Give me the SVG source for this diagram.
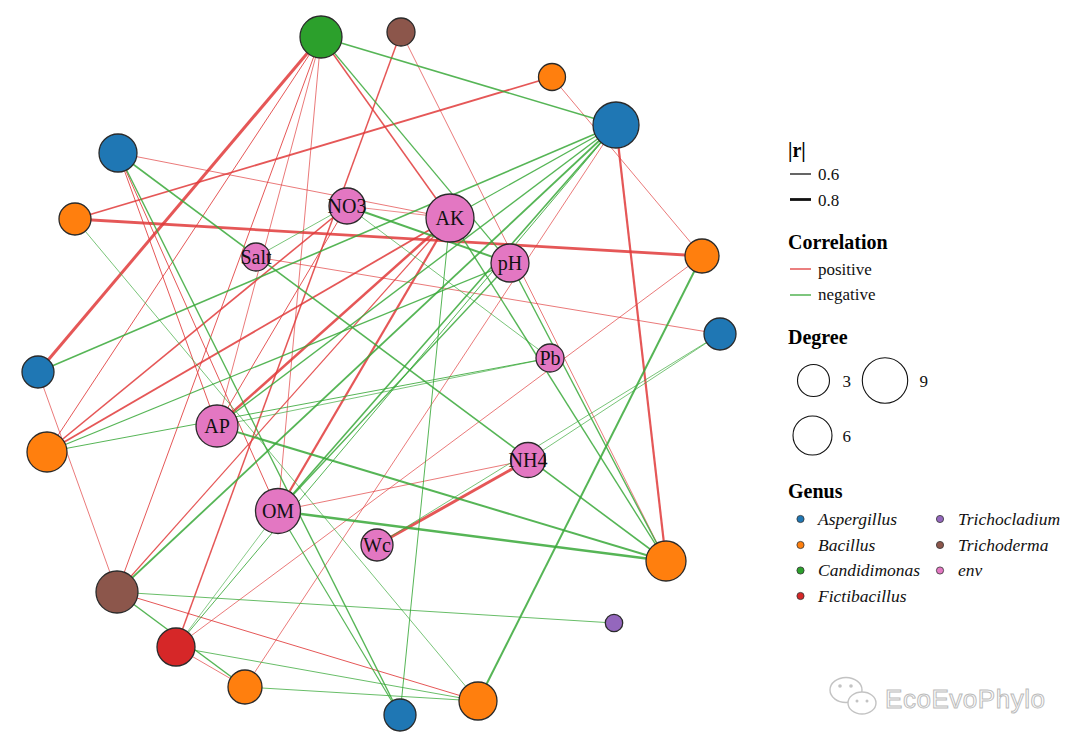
<svg xmlns="http://www.w3.org/2000/svg" width="1080" height="749" viewBox="0 0 1080 749">
<style>
.pos{stroke:#e03a3a;stroke-opacity:0.85;fill:none}
.neg{stroke:#38a838;stroke-opacity:0.85;fill:none}
.nd{stroke:#2a2a2a;stroke-width:1.3}
.lab{font-family:"Liberation Serif","Times New Roman",serif;font-size:20px;fill:#111;text-anchor:middle}
.lt{font-family:"Liberation Serif","Times New Roman",serif;font-size:17px;fill:#111}
.lh{font-family:"Liberation Serif","Times New Roman",serif;font-size:20px;font-weight:bold;fill:#000}
.gi{font-family:"Liberation Serif","Times New Roman",serif;font-size:17.5px;font-style:italic;fill:#111}
.asp{fill:#1f77b4}.bac{fill:#ff7f0e}.can{fill:#2ca02c}.fic{fill:#d62728}.tcl{fill:#9467bd}.tde{fill:#8c564b}.env{fill:#e377c2}
</style>
<rect width="1080" height="749" fill="#ffffff"/>
<g id="connectors">
<line class="pos" stroke-width="3" x1="321" y1="37" x2="38" y2="372"/>
<line class="pos" stroke-width="1" x1="321" y1="37" x2="47" y2="452"/>
<line class="pos" stroke-width="1" x1="321" y1="37" x2="117" y2="592"/>
<line class="pos" stroke-width="1.5" x1="321" y1="37" x2="450" y2="218"/>
<line class="pos" stroke-width="0.8" x1="321" y1="37" x2="217" y2="426"/>
<line class="pos" stroke-width="0.8" x1="321" y1="37" x2="278" y2="511"/>
<line class="pos" stroke-width="1.5" x1="176" y1="647" x2="401" y2="32"/>
<line class="pos" stroke-width="0.8" x1="401" y1="32" x2="666" y2="561"/>
<line class="pos" stroke-width="2.2" x1="616" y1="125" x2="666" y2="561"/>
<line class="pos" stroke-width="0.8" x1="616" y1="125" x2="245" y2="687"/>
<line class="pos" stroke-width="0.8" x1="552" y1="77" x2="702" y2="256"/>
<line class="pos" stroke-width="1.8" x1="75" y1="219" x2="552" y2="77"/>
<line class="pos" stroke-width="2.8" x1="75" y1="219" x2="702" y2="256"/>
<line class="pos" stroke-width="0.8" x1="702" y1="256" x2="176" y2="647"/>
<line class="pos" stroke-width="0.8" x1="38" y1="372" x2="117" y2="592"/>
<line class="pos" stroke-width="1" x1="118" y1="153" x2="217" y2="426"/>
<line class="pos" stroke-width="1" x1="118" y1="153" x2="278" y2="511"/>
<line class="pos" stroke-width="0.8" x1="118" y1="153" x2="450" y2="218"/>
<line class="pos" stroke-width="1.6" x1="47" y1="452" x2="347" y2="206"/>
<line class="pos" stroke-width="1.8" x1="47" y1="452" x2="450" y2="218"/>
<line class="pos" stroke-width="2.5" x1="217" y1="426" x2="450" y2="218"/>
<line class="pos" stroke-width="2.2" x1="278" y1="511" x2="450" y2="218"/>
<line class="pos" stroke-width="1.2" x1="117" y1="592" x2="450" y2="218"/>
<line class="pos" stroke-width="3" x1="528" y1="460" x2="377" y2="545"/>
<line class="pos" stroke-width="0.8" x1="256" y1="257" x2="720" y2="334"/>
<line class="pos" stroke-width="1" x1="117" y1="592" x2="478" y2="701"/>
<line class="pos" stroke-width="0.8" x1="176" y1="647" x2="245" y2="687"/>
<line class="pos" stroke-width="0.8" x1="278" y1="511" x2="528" y2="460"/>
<line class="pos" stroke-width="1" x1="347" y1="206" x2="217" y2="426"/>
<line class="pos" stroke-width="0.7" x1="347" y1="206" x2="450" y2="218"/>
<line class="neg" stroke-width="1.6" x1="321" y1="37" x2="616" y2="125"/>
<line class="neg" stroke-width="1.2" x1="321" y1="37" x2="510" y2="263"/>
<line class="neg" stroke-width="1.6" x1="616" y1="125" x2="38" y2="372"/>
<line class="neg" stroke-width="1.4" x1="616" y1="125" x2="217" y2="426"/>
<line class="neg" stroke-width="1.8" x1="616" y1="125" x2="117" y2="592"/>
<line class="neg" stroke-width="1.6" x1="616" y1="125" x2="278" y2="511"/>
<line class="neg" stroke-width="1.2" x1="616" y1="125" x2="450" y2="218"/>
<line class="neg" stroke-width="1" x1="616" y1="125" x2="176" y2="647"/>
<line class="neg" stroke-width="1.4" x1="118" y1="153" x2="400" y2="715"/>
<line class="neg" stroke-width="1.6" x1="118" y1="153" x2="666" y2="561"/>
<line class="neg" stroke-width="0.8" x1="75" y1="219" x2="478" y2="701"/>
<line class="neg" stroke-width="1.2" x1="47" y1="452" x2="510" y2="263"/>
<line class="neg" stroke-width="1" x1="47" y1="452" x2="550" y2="358"/>
<line class="neg" stroke-width="0.8" x1="217" y1="426" x2="550" y2="358"/>
<line class="neg" stroke-width="2" x1="217" y1="426" x2="666" y2="561"/>
<line class="neg" stroke-width="2.5" x1="278" y1="511" x2="666" y2="561"/>
<line class="neg" stroke-width="1.2" x1="278" y1="511" x2="400" y2="715"/>
<line class="neg" stroke-width="1.4" x1="278" y1="511" x2="510" y2="263"/>
<line class="neg" stroke-width="0.7" x1="176" y1="647" x2="278" y2="511"/>
<line class="neg" stroke-width="1" x1="450" y1="218" x2="400" y2="715"/>
<line class="neg" stroke-width="1.4" x1="450" y1="218" x2="666" y2="561"/>
<line class="neg" stroke-width="1.4" x1="510" y1="263" x2="666" y2="561"/>
<line class="neg" stroke-width="2" x1="347" y1="206" x2="510" y2="263"/>
<line class="neg" stroke-width="0.8" x1="347" y1="206" x2="256" y2="257"/>
<line class="neg" stroke-width="0.8" x1="347" y1="206" x2="550" y2="358"/>
<line class="neg" stroke-width="0.8" x1="720" y1="334" x2="528" y2="460"/>
<line class="neg" stroke-width="0.8" x1="720" y1="334" x2="377" y2="545"/>
<line class="neg" stroke-width="2" x1="702" y1="256" x2="478" y2="701"/>
<line class="neg" stroke-width="0.9" x1="117" y1="592" x2="614" y2="623"/>
<line class="neg" stroke-width="1.5" x1="117" y1="592" x2="245" y2="687"/>
<line class="neg" stroke-width="0.9" x1="176" y1="647" x2="478" y2="701"/>
<line class="neg" stroke-width="0.9" x1="245" y1="687" x2="478" y2="701"/>
</g>
<g id="n-candidimonas"><circle class="nd can" cx="321" cy="37" r="21"/></g>
<g id="n-trichoderma1"><circle class="nd tde" cx="401" cy="32" r="14"/></g>
<g id="n-bacillus1"><circle class="nd bac" cx="552" cy="77" r="13.5"/></g>
<g id="n-aspergillus1"><circle class="nd asp" cx="616" cy="125" r="23"/></g>
<g id="n-aspergillus2"><circle class="nd asp" cx="118" cy="153" r="19"/></g>
<g id="n-bacillus2"><circle class="nd bac" cx="75" cy="219" r="16"/></g>
<g id="n-NO3"><circle class="nd env" cx="347" cy="206" r="18"/><text class="lab" x="347" y="213">NO3</text></g>
<g id="n-AK"><circle class="nd env" cx="450" cy="218" r="24"/><text class="lab" x="450" y="225">AK</text></g>
<g id="n-Salt"><circle class="nd env" cx="256" cy="257" r="14"/><text class="lab" x="256" y="264">Salt</text></g>
<g id="n-pH"><circle class="nd env" cx="510" cy="263" r="19"/><text class="lab" x="510" y="270">pH</text></g>
<g id="n-bacillus3"><circle class="nd bac" cx="702" cy="256" r="17"/></g>
<g id="n-aspergillus3"><circle class="nd asp" cx="720" cy="334" r="16"/></g>
<g id="n-Pb"><circle class="nd env" cx="550" cy="358" r="14"/><text class="lab" x="550" y="365">Pb</text></g>
<g id="n-aspergillus4"><circle class="nd asp" cx="38" cy="372" r="16"/></g>
<g id="n-AP"><circle class="nd env" cx="217" cy="426" r="21"/><text class="lab" x="217" y="433">AP</text></g>
<g id="n-bacillus4"><circle class="nd bac" cx="47" cy="452" r="20"/></g>
<g id="n-NH4"><circle class="nd env" cx="528" cy="460" r="17.5"/><text class="lab" x="528" y="467">NH4</text></g>
<g id="n-OM"><circle class="nd env" cx="278" cy="511" r="22.5"/><text class="lab" x="278" y="518">OM</text></g>
<g id="n-Wc"><circle class="nd env" cx="377" cy="545" r="16"/><text class="lab" x="377" y="552">Wc</text></g>
<g id="n-bacillus5"><circle class="nd bac" cx="666" cy="561" r="20"/></g>
<g id="n-trichoderma2"><circle class="nd tde" cx="117" cy="592" r="21"/></g>
<g id="n-trichocladium"><circle class="nd tcl" cx="614" cy="623" r="8.7"/></g>
<g id="n-fictibacillus"><circle class="nd fic" cx="176" cy="647" r="19"/></g>
<g id="n-bacillus6"><circle class="nd bac" cx="245" cy="687" r="17"/></g>
<g id="n-bacillus7"><circle class="nd bac" cx="478" cy="701" r="19"/></g>
<g id="n-aspergillus5"><circle class="nd asp" cx="400" cy="715" r="16"/></g>
<g id="legend">
<text class="lh" x="788" y="157">|r|</text>
<line x1="790" y1="174" x2="811" y2="174" stroke="#111" stroke-width="1.3"/>
<text class="lt" x="818" y="180">0.6</text>
<line x1="790" y1="199.5" x2="811" y2="199.5" stroke="#111" stroke-width="2.8"/>
<text class="lt" x="818" y="205.5">0.8</text>
<text class="lh" x="788" y="249">Correlation</text>
<line x1="790" y1="269" x2="811" y2="269" stroke="#e03a3a" stroke-width="1.3"/>
<text class="lt" x="818" y="275">positive</text>
<line x1="790" y1="295" x2="811" y2="295" stroke="#38a838" stroke-width="1.3"/>
<text class="lt" x="818" y="300">negative</text>
<text class="lh" x="788" y="344">Degree</text>
<circle cx="813.5" cy="380.5" r="16" fill="none" stroke="#111" stroke-width="1.1"/>
<text class="lt" x="842.5" y="386.5">3</text>
<circle cx="885" cy="380.5" r="22.7" fill="none" stroke="#111" stroke-width="1.1"/>
<text class="lt" x="919.5" y="386.5">9</text>
<circle cx="812.5" cy="435.5" r="19.5" fill="none" stroke="#111" stroke-width="1.1"/>
<text class="lt" x="842.5" y="441.5">6</text>
<text class="lh" x="788" y="498">Genus</text>
<circle class="asp" cx="800.5" cy="519" r="3.6" stroke="#333" stroke-width="0.8"/>
<text class="gi" x="818" y="524.5">Aspergillus</text>
<circle class="bac" cx="800.5" cy="545" r="3.6" stroke="#333" stroke-width="0.8"/>
<text class="gi" x="818" y="550.5">Bacillus</text>
<circle class="can" cx="800.5" cy="570.5" r="3.6" stroke="#333" stroke-width="0.8"/>
<text class="gi" x="818" y="576">Candidimonas</text>
<circle class="fic" cx="800.5" cy="596" r="3.6" stroke="#333" stroke-width="0.8"/>
<text class="gi" x="818" y="601.5">Fictibacillus</text>
<circle class="tcl" cx="940" cy="519" r="3.6" stroke="#333" stroke-width="0.8"/>
<text class="gi" x="958" y="524.5">Trichocladium</text>
<circle class="tde" cx="940" cy="545" r="3.6" stroke="#333" stroke-width="0.8"/>
<text class="gi" x="958" y="550.5">Trichoderma</text>
<circle class="env" cx="940" cy="570.5" r="3.6" stroke="#333" stroke-width="0.8"/>
<text class="gi" x="958" y="576">env</text>
</g>
<g id="watermark" opacity="0.9">
<ellipse cx="846" cy="690" rx="16" ry="12.5" fill="#fff" stroke="#bdbdbd" stroke-width="1.4"/>
<ellipse cx="862" cy="703" rx="14" ry="11" fill="#fff" stroke="#bdbdbd" stroke-width="1.4"/>
<circle cx="840" cy="686" r="1.8" fill="#bdbdbd"/><circle cx="851" cy="686" r="1.8" fill="#bdbdbd"/>
<circle cx="857" cy="701" r="1.5" fill="#bdbdbd"/><circle cx="867" cy="701" r="1.5" fill="#bdbdbd"/>
<text x="885" y="708" font-family="Liberation Sans, Arial, sans-serif" font-size="26" fill="#fff" stroke="#b5b5b5" stroke-width="1" textLength="160">EcoEvoPhylo</text>
</g>
</svg>
